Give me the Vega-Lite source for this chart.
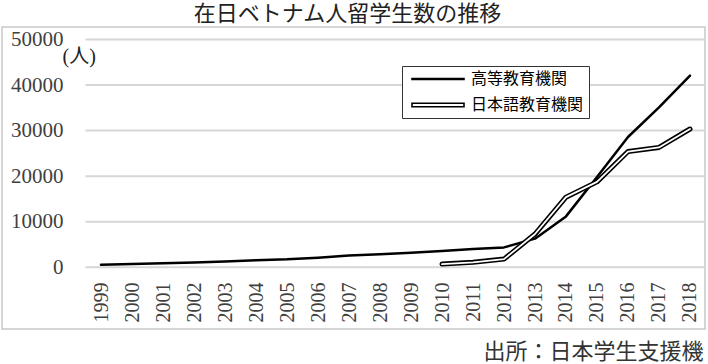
{
  "$schema": "https://vega.github.io/schema/vega-lite/v6.json",
  "width": 703,
  "height": 302,
  "autosize": {"type": "none"},
  "padding": {"left": 2, "top": 27, "right": 3, "bottom": 35},
  "background": "white",
  "title": {
    "text": "在日ベトナム人留学生数の推移",
    "font": "Noto Sans CJK JP",
    "fontSize": 22,
    "fontWeight": "normal",
    "color": "#222222",
    "anchor": "middle",
    "dx": -6,
    "offset": 1
  },
  "config": {
    "view": {"stroke": "#c8c8c8", "strokeWidth": 1.5},
    "axis": {"labelOverlap": false, "labelFlush": false, "labelBound": false, "grid": false, "domain": false, "ticks": false}
  },
  "datasets": {
    "students": [
      {"year": 1999, "series": "高等教育機関", "value": 550},
      {"year": 2000, "series": "高等教育機関", "value": 700},
      {"year": 2001, "series": "高等教育機関", "value": 900},
      {"year": 2002, "series": "高等教育機関", "value": 1050},
      {"year": 2003, "series": "高等教育機関", "value": 1300},
      {"year": 2004, "series": "高等教育機関", "value": 1570},
      {"year": 2005, "series": "高等教育機関", "value": 1745},
      {"year": 2006, "series": "高等教育機関", "value": 2119},
      {"year": 2007, "series": "高等教育機関", "value": 2582},
      {"year": 2008, "series": "高等教育機関", "value": 2873},
      {"year": 2009, "series": "高等教育機関", "value": 3199},
      {"year": 2010, "series": "高等教育機関", "value": 3597},
      {"year": 2011, "series": "高等教育機関", "value": 4033},
      {"year": 2012, "series": "高等教育機関", "value": 4373},
      {"year": 2013, "series": "高等教育機関", "value": 6290},
      {"year": 2014, "series": "高等教育機関", "value": 11174},
      {"year": 2015, "series": "高等教育機関", "value": 19800},
      {"year": 2016, "series": "高等教育機関", "value": 28600},
      {"year": 2017, "series": "高等教育機関", "value": 35100},
      {"year": 2018, "series": "高等教育機関", "value": 42083},
      {"year": 2010, "series": "日本語教育機関", "value": 700},
      {"year": 2011, "series": "日本語教育機関", "value": 1100},
      {"year": 2012, "series": "日本語教育機関", "value": 1800},
      {"year": 2013, "series": "日本語教育機関", "value": 7300},
      {"year": 2014, "series": "日本語教育機関", "value": 15400},
      {"year": 2015, "series": "日本語教育機関", "value": 18750},
      {"year": 2016, "series": "日本語教育機関", "value": 25400},
      {"year": 2017, "series": "日本語教育機関", "value": 26300},
      {"year": 2018, "series": "日本語教育機関", "value": 30350}
    ],
    "grid": [
      {"value": 0}, {"value": 10000}, {"value": 20000}, {"value": 30000}, {"value": 40000}, {"value": 50000}
    ]
  },
  "layer": [
    {
      "data": {"name": "grid"},
      "mark": {"type": "rule", "color": "#d6d6d6", "strokeWidth": 2},
      "encoding": {
        "y": {
          "field": "value",
          "type": "quantitative",
          "scale": {"domain": [-13540, 52740], "nice": false, "zero": false},
          "axis": {
            "values": [0, 10000, 20000, 30000, 40000, 50000],
            "format": "d",
            "offset": -61,
            "labelPadding": 0,
            "labelFont": "Liberation Serif",
            "labelFontSize": 21,
            "labelColor": "#404040",
            "title": "(人)",
            "titleFont": "Liberation Serif, Noto Sans CJK JP",
            "titleFontSize": 20,
            "titleFontWeight": "normal",
            "titleColor": "#222222",
            "titleAngle": 0,
            "titleX": -1,
            "titleY": 29,
            "titleAlign": "left",
            "titleBaseline": "middle"
          }
        },
        "x": {
          "datum": 1998.5,
          "type": "quantitative",
          "scale": {"domain": [1995.806, 2018.484], "nice": false, "zero": false},
          "axis": {
            "values": [1999, 2000, 2001, 2002, 2003, 2004, 2005, 2006, 2007, 2008, 2009, 2010, 2011, 2012, 2013, 2014, 2015, 2016, 2017, 2018],
            "format": "d",
            "labelAngle": -90,
            "labelOverlap": false,
            "offset": -47,
            "labelPadding": 0,
            "labelFont": "Liberation Serif",
            "labelFontSize": 20,
            "labelColor": "#404040",
            "title": "出所：日本学生支援機",
            "titleFont": "Noto Sans CJK JP",
            "titleFontSize": 22,
            "titleFontWeight": "normal",
            "titleColor": "#333333",
            "titleX": 701,
            "titleY": 69,
            "titleAlign": "right",
            "titleBaseline": "middle",
            "titleAnchor": "end"
          }
        },
        "x2": {"datum": 2018.484}
      }
    },
    {
      "data": {"name": "students"},
      "transform": [{"filter": "datum.series === '高等教育機関'"}],
      "mark": {"type": "line", "strokeWidth": 2.5, "strokeCap": "round", "strokeJoin": "round"},
      "encoding": {
        "x": {
          "field": "year",
          "type": "quantitative",
          "scale": {"domain": [1995.806, 2018.484], "nice": false, "zero": false},
          "axis": {
            "values": [1999, 2000, 2001, 2002, 2003, 2004, 2005, 2006, 2007, 2008, 2009, 2010, 2011, 2012, 2013, 2014, 2015, 2016, 2017, 2018],
            "format": "d",
            "labelAngle": -90,
            "labelOverlap": false,
            "offset": -47,
            "labelPadding": 0,
            "labelFont": "Liberation Serif",
            "labelFontSize": 20,
            "labelColor": "#404040",
            "title": "出所：日本学生支援機",
            "titleFont": "Noto Sans CJK JP",
            "titleFontSize": 22,
            "titleFontWeight": "normal",
            "titleColor": "#333333",
            "titleX": 701,
            "titleY": 69,
            "titleAlign": "right",
            "titleBaseline": "middle",
            "titleAnchor": "end"
          }
        },
        "y": {
          "field": "value",
          "type": "quantitative",
          "scale": {"domain": [-13540, 52740], "nice": false, "zero": false},
          "axis": {
            "values": [0, 10000, 20000, 30000, 40000, 50000],
            "format": "d",
            "offset": -61,
            "labelPadding": 0,
            "labelFont": "Liberation Serif",
            "labelFontSize": 21,
            "labelColor": "#404040",
            "title": "(人)",
            "titleFont": "Liberation Serif, Noto Sans CJK JP",
            "titleFontSize": 20,
            "titleFontWeight": "normal",
            "titleColor": "#222222",
            "titleAngle": 0,
            "titleX": -1,
            "titleY": 29,
            "titleAlign": "left",
            "titleBaseline": "middle"
          }
        },
        "color": {
          "field": "series",
          "type": "nominal",
          "scale": {"domain": ["高等教育機関", "日本語教育機関"], "range": ["black", "black"]},
          "legend": {
            "orient": "none",
            "legendX": 400,
            "legendY": 39,
            "title": null,
            "direction": "vertical",
            "padding": 5,
            "strokeColor": "#333333",
            "fillColor": "white",
            "symbolType": "M-1,-0.02H1V0.02H-1Z",
            "symbolSize": 2704,
            "symbolStrokeWidth": 1.6,
            "symbolStrokeColor": "black",
            "symbolOffset": 4,
            "labelOffset": 6,
            "labelFont": "Noto Sans CJK JP",
            "labelFontSize": 16,
            "labelColor": "black",
            "labelLimit": 300,
            "clipHeight": 16,
            "rowPadding": 10,
            "encode": {
              "symbols": {
                "update": {
                  "shape": {"signal": "datum.value === '高等教育機関' ? 'M-1,-0.02H1V0.02H-1Z' : 'M-1,-0.065H1V0.065H-1Z'"},
                  "fill": {"signal": "datum.value === '高等教育機関' ? 'black' : 'white'"},
                  "stroke": {"value": "black"},
                  "strokeWidth": {"value": 1.6},
                  "opacity": {"value": 1}
                }
              }
            }
          }
        }
      }
    },
    {
      "data": {"name": "students"},
      "transform": [{"filter": "datum.series === '日本語教育機関'"}],
      "mark": {"type": "line", "color": "black", "strokeWidth": 5, "strokeCap": "round", "strokeJoin": "round"},
      "encoding": {
        "x": {
          "field": "year",
          "type": "quantitative",
          "scale": {"domain": [1995.806, 2018.484], "nice": false, "zero": false},
          "axis": {
            "values": [1999, 2000, 2001, 2002, 2003, 2004, 2005, 2006, 2007, 2008, 2009, 2010, 2011, 2012, 2013, 2014, 2015, 2016, 2017, 2018],
            "format": "d",
            "labelAngle": -90,
            "labelOverlap": false,
            "offset": -47,
            "labelPadding": 0,
            "labelFont": "Liberation Serif",
            "labelFontSize": 20,
            "labelColor": "#404040",
            "title": "出所：日本学生支援機",
            "titleFont": "Noto Sans CJK JP",
            "titleFontSize": 22,
            "titleFontWeight": "normal",
            "titleColor": "#333333",
            "titleX": 701,
            "titleY": 69,
            "titleAlign": "right",
            "titleBaseline": "middle",
            "titleAnchor": "end"
          }
        },
        "y": {
          "field": "value",
          "type": "quantitative",
          "scale": {"domain": [-13540, 52740], "nice": false, "zero": false},
          "axis": {
            "values": [0, 10000, 20000, 30000, 40000, 50000],
            "format": "d",
            "offset": -61,
            "labelPadding": 0,
            "labelFont": "Liberation Serif",
            "labelFontSize": 21,
            "labelColor": "#404040",
            "title": "(人)",
            "titleFont": "Liberation Serif, Noto Sans CJK JP",
            "titleFontSize": 20,
            "titleFontWeight": "normal",
            "titleColor": "#222222",
            "titleAngle": 0,
            "titleX": -1,
            "titleY": 29,
            "titleAlign": "left",
            "titleBaseline": "middle"
          }
        }
      }
    },
    {
      "data": {"name": "students"},
      "transform": [{"filter": "datum.series === '日本語教育機関'"}],
      "mark": {"type": "line", "color": "white", "strokeWidth": 1.8, "strokeCap": "round", "strokeJoin": "round"},
      "encoding": {
        "x": {
          "field": "year",
          "type": "quantitative",
          "scale": {"domain": [1995.806, 2018.484], "nice": false, "zero": false},
          "axis": {
            "values": [1999, 2000, 2001, 2002, 2003, 2004, 2005, 2006, 2007, 2008, 2009, 2010, 2011, 2012, 2013, 2014, 2015, 2016, 2017, 2018],
            "format": "d",
            "labelAngle": -90,
            "labelOverlap": false,
            "offset": -47,
            "labelPadding": 0,
            "labelFont": "Liberation Serif",
            "labelFontSize": 20,
            "labelColor": "#404040",
            "title": "出所：日本学生支援機",
            "titleFont": "Noto Sans CJK JP",
            "titleFontSize": 22,
            "titleFontWeight": "normal",
            "titleColor": "#333333",
            "titleX": 701,
            "titleY": 69,
            "titleAlign": "right",
            "titleBaseline": "middle",
            "titleAnchor": "end"
          }
        },
        "y": {
          "field": "value",
          "type": "quantitative",
          "scale": {"domain": [-13540, 52740], "nice": false, "zero": false},
          "axis": {
            "values": [0, 10000, 20000, 30000, 40000, 50000],
            "format": "d",
            "offset": -61,
            "labelPadding": 0,
            "labelFont": "Liberation Serif",
            "labelFontSize": 21,
            "labelColor": "#404040",
            "title": "(人)",
            "titleFont": "Liberation Serif, Noto Sans CJK JP",
            "titleFontSize": 20,
            "titleFontWeight": "normal",
            "titleColor": "#222222",
            "titleAngle": 0,
            "titleX": -1,
            "titleY": 29,
            "titleAlign": "left",
            "titleBaseline": "middle"
          }
        }
      }
    }
  ]
}
